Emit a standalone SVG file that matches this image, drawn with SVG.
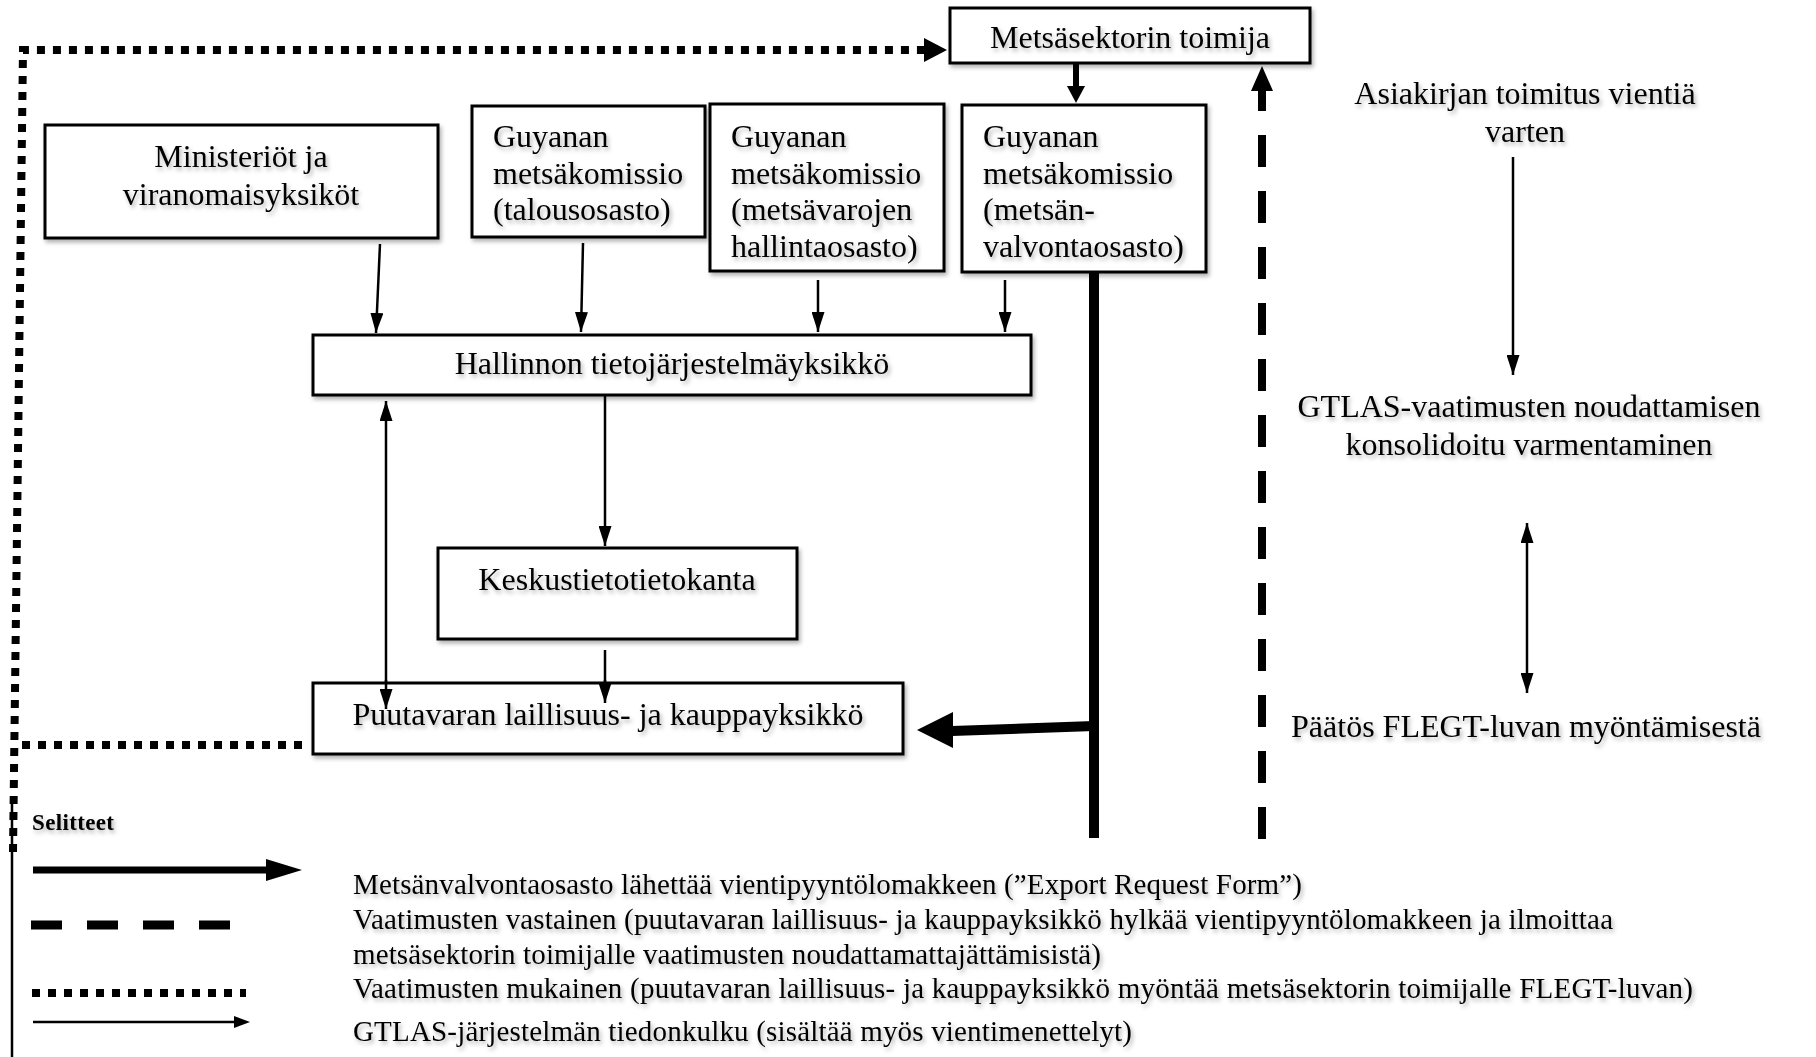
<svg xmlns="http://www.w3.org/2000/svg" width="1816" height="1057" viewBox="0 0 1816 1057">
<defs>
<filter id="sh" x="-10%" y="-20%" width="130%" height="160%">
<feDropShadow dx="2" dy="3" stdDeviation="2" flood-color="#000" flood-opacity="0.3"/>
</filter>
<marker id="ah" viewBox="0 0 20 13" refX="20" refY="6.5" markerWidth="20" markerHeight="13" markerUnits="userSpaceOnUse" orient="auto-start-reverse">
<path d="M0,0 L20,6.5 L0,13 z" fill="#000"/>
</marker>
<style>
.box{fill:#fff;stroke:#000;stroke-width:3;filter:url(#sh)}
.t{font-family:"Liberation Serif","Times New Roman",serif;font-size:32px;fill:#000;filter:url(#sh)}
.c{text-anchor:middle}
.lg{font-family:"Liberation Serif","Times New Roman",serif;font-size:29px;fill:#000;filter:url(#sh)}
.thin{fill:none;stroke:#000;stroke-width:2.5}
.dot{fill:none;stroke:#000;stroke-width:8;stroke-dasharray:8 8}
.dash{fill:none;stroke:#000;stroke-width:8;stroke-dasharray:32 24}
.thick{fill:none;stroke:#000;stroke-width:10}
</style>
</defs>
<rect width="1816" height="1057" fill="#fff"/>

<g id="connectors">
<!-- dotted compliance path -->
<path class="dot" d="M302,745 L20,745"/>
<path class="dot" d="M13,852 L23,50 L926,50"/>
<path d="M924,38 L947,50 L924,62 z" fill="#000"/>
<!-- thin flows -->
<line class="thin" x1="380" y1="244" x2="376" y2="333" marker-end="url(#ah)"/>
<line class="thin" x1="583" y1="243" x2="581" y2="332" marker-end="url(#ah)"/>
<line class="thin" x1="818" y1="280" x2="818" y2="332" marker-end="url(#ah)"/>
<line class="thin" x1="1005" y1="280" x2="1005" y2="332" marker-end="url(#ah)"/>
<line class="thin" x1="605" y1="395" x2="605" y2="546" marker-end="url(#ah)"/>
<line class="thin" x1="605" y1="650" x2="605" y2="703" marker-end="url(#ah)"/>
<line class="thin" x1="386" y1="401" x2="386" y2="709" marker-start="url(#ah)" marker-end="url(#ah)"/>
<line class="thin" x1="1513" y1="157" x2="1513" y2="375" marker-end="url(#ah)"/>
<line class="thin" x1="1527" y1="523" x2="1527" y2="693" marker-start="url(#ah)" marker-end="url(#ah)"/>
<!-- thick export request flow -->
<line class="thick" x1="1094" y1="272" x2="1094" y2="838"/>
<path d="M1094,726 L952,731" fill="none" stroke="#000" stroke-width="10"/>
<path d="M953,712 L917,730 L953,748 z" fill="#000"/>
<line x1="1076" y1="63" x2="1076" y2="88" stroke="#000" stroke-width="6"/>
<path d="M1067,86 L1076,103 L1085,86 z" fill="#000"/>
<!-- dashed non-compliance -->
<path class="dash" d="M1262,839 L1262,90"/>
<path d="M1251,91 L1262,66 L1273,91 z" fill="#000"/>
</g>

<g id="node-metsasektori">
<rect class="box" x="950" y="8" width="360" height="55"/>
<text class="t c" x="1130" y="48">Metsäsektorin toimija</text>
</g>
<g id="node-ministeriot">
<rect class="box" x="45" y="125" width="393" height="113"/>
<text class="t c" x="241" y="167">Ministeriöt ja</text>
<text class="t c" x="241" y="205">viranomaisyksiköt</text>
</g>
<g id="node-talous">
<rect class="box" x="472" y="106" width="233" height="131"/>
<text class="t" x="493" y="147">Guyanan</text>
<text class="t" x="493" y="184">metsäkomissio</text>
<text class="t" x="493" y="220">(talousosasto)</text>
</g>
<g id="node-metsavarat">
<rect class="box" x="710" y="104" width="234" height="167"/>
<text class="t" x="731" y="147">Guyanan</text>
<text class="t" x="731" y="184">metsäkomissio</text>
<text class="t" x="731" y="220">(metsävarojen</text>
<text class="t" x="731" y="257">hallintaosasto)</text>
</g>
<g id="node-valvonta">
<rect class="box" x="962" y="105" width="244" height="167"/>
<text class="t" x="983" y="147">Guyanan</text>
<text class="t" x="983" y="184">metsäkomissio</text>
<text class="t" x="983" y="220">(metsän-</text>
<text class="t" x="983" y="257">valvontaosasto)</text>
</g>
<g id="node-hallinnon">
<rect class="box" x="313" y="335" width="718" height="60"/>
<text class="t c" x="672" y="374">Hallinnon tietojärjestelmäyksikkö</text>
</g>
<g id="node-keskus">
<rect class="box" x="438" y="548" width="359" height="91"/>
<text class="t c" x="617" y="590">Keskustietotietokanta</text>
</g>
<g id="node-puutavara">
<rect class="box" x="313" y="683" width="590" height="71"/>
<text class="t c" x="608" y="725">Puutavaran laillisuus- ja kauppayksikkö</text>
</g>
<!-- arrow tips drawn over the box -->
<g id="connectors-over">
<line class="thin" x1="605" y1="680" x2="605" y2="703" marker-end="url(#ah)"/>
<line class="thin" x1="386" y1="680" x2="386" y2="709" marker-end="url(#ah)"/>
</g>
<g id="node-asiakirja">
<text class="t c" x="1525" y="104">Asiakirjan toimitus vientiä</text>
<text class="t c" x="1525" y="142">varten</text>
</g>
<g id="node-gtlas">
<text class="t c" x="1529" y="417">GTLAS-vaatimusten noudattamisen</text>
<text class="t c" x="1529" y="455">konsolidoitu varmentaminen</text>
</g>
<g id="node-paatos">
<text class="t c" x="1526" y="737">Päätös FLEGT-luvan myöntämisestä</text>
</g>

<g id="legend">
<line x1="12" y1="796" x2="1816" y2="796" stroke="#000" stroke-width="2.5" filter="url(#sh)"/>
<line x1="12" y1="796" x2="12" y2="1057" stroke="#000" stroke-width="2.5"/>
<text x="32" y="830" font-family="'Liberation Serif','Times New Roman',serif" font-size="23" font-weight="bold" textLength="82" filter="url(#sh)">Selitteet</text>
<line x1="33" y1="870" x2="268" y2="870" stroke="#000" stroke-width="7"/>
<path d="M266,859 L302,870 L266,881 z" fill="#000"/>
<line x1="31" y1="925" x2="230" y2="925" stroke="#000" stroke-width="9" stroke-dasharray="31 25"/>
<line x1="32" y1="993" x2="246" y2="993" stroke="#000" stroke-width="8" stroke-dasharray="8 8"/>
<line x1="33" y1="1022" x2="236" y2="1022" stroke="#000" stroke-width="2.5"/>
<path d="M234,1016 L250,1022 L234,1028 z" fill="#000"/>
<text class="lg" x="353" y="894" textLength="949">Metsänvalvontaosasto lähettää vientipyyntölomakkeen (”Export Request Form”)</text>
<text class="lg" x="353" y="929" textLength="1260">Vaatimusten vastainen (puutavaran laillisuus- ja kauppayksikkö hylkää vientipyyntölomakkeen ja ilmoittaa</text>
<text class="lg" x="353" y="964" textLength="748">metsäsektorin toimijalle vaatimusten noudattamattajättämisistä)</text>
<text class="lg" x="353" y="998" textLength="1340">Vaatimusten mukainen (puutavaran laillisuus- ja kauppayksikkö myöntää metsäsektorin toimijalle FLEGT-luvan)</text>
<text class="lg" x="353" y="1041" textLength="779">GTLAS-järjestelmän tiedonkulku (sisältää myös vientimenettelyt)</text>
</g>
</svg>
